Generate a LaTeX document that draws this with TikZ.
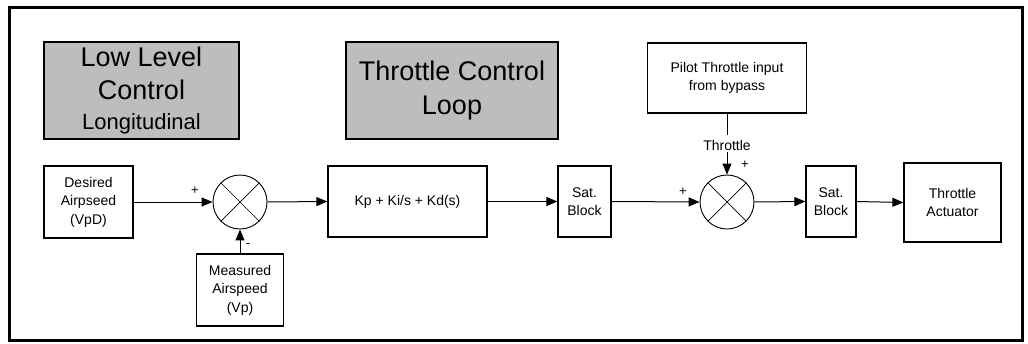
\documentclass[tikz,border=0pt]{standalone}
\usepackage{fontspec}
\setmainfont{Liberation Sans}
\usetikzlibrary{arrows.meta}
\definecolor{headgray}{HTML}{BDBDBD}
\begin{document}
\begin{tikzpicture}[x=1pt,y=-1pt,
  box/.style={draw,line width=1.2pt,inner sep=0pt,align=center,
    font=\fontsize{14}{18.5}\selectfont},
  headbox/.style={draw,line width=1.2pt,fill=headgray,inner sep=0pt,align=center,
    font=\fontsize{27}{34}\selectfont},
  sumnode/.style={circle,draw,line width=0.9pt,minimum size=54pt,inner sep=0pt,
    path picture={
      \draw[line width=0.7pt] ([shift={(45:27pt)}]path picture bounding box.center) -- ([shift={(225:27pt)}]path picture bounding box.center);
      \draw[line width=0.7pt] ([shift={(135:27pt)}]path picture bounding box.center) -- ([shift={(315:27pt)}]path picture bounding box.center);}},
  conn/.style={line width=1pt,-{Triangle[length=11pt,width=9pt]}},
  sign/.style={inner sep=0pt,font=\fontsize{13}{13}\selectfont}
]
\useasboundingbox (0,0) rectangle (1028,343);
\draw[line width=3pt] (9,7) rectangle (1022,340);

\node[headbox,minimum width=195pt,minimum height=97pt] (low) at (141.5,90.5)
  {Low Level\\[-1pt]Control\\[-4pt]{\fontsize{22}{26}\selectfont Longitudinal}};
\node[headbox,minimum width=212pt,minimum height=97pt] (tcl) at (452,90.5)
  {Throttle Control\\Loop};

\node[box,minimum width=89pt,minimum height=72pt] (des) at (88.5,202) {Desired\\Airpseed\\(VpD)};
\node[sumnode] (s1) at (240,202) {};
\node[box,minimum width=87pt,minimum height=72pt] (meas) at (240,290) {Measured\\Airspeed\\(Vp)};
\node[box,minimum width=159pt,minimum height=71pt] (pid) at (407.5,201.5) {Kp + Ki/s + Kd(s)};
\node[box,minimum width=53pt,minimum height=71pt] (sat1) at (584.5,201.5) {Sat.\\Block};
\node[sumnode] (s2) at (727,202) {};
\node[box,minimum width=50pt,minimum height=71pt] (sat2) at (831,201.5) {Sat.\\Block};
\node[box,minimum width=97pt,minimum height=79pt] (act) at (952.5,202.5) {Throttle\\Actuator};
\node[box,minimum width=159pt,minimum height=70pt] (pilot) at (727,78) {Pilot Throttle input\\from bypass};
\node[inner sep=1pt,font=\fontsize{14}{16}\selectfont] (thr) at (727,145) {Throttle};

\draw[conn] (des.east) -- (s1.west);
\draw[conn] (meas.north) -- (s1.south);
\draw[conn] (s1.east) -- (pid.west);
\draw[conn] (pid.east) -- (sat1.west);
\draw[conn] (sat1.east) -- (s2.west);
\draw[line width=1pt] (pilot.south) -- ([yshift=4pt]thr.north);
\draw[conn] ([yshift=-1pt]thr.south) -- (s2.north);
\draw[conn] (s2.east) -- (sat2.west);
\draw[conn] (sat2.east) -- (act.west);

\node[sign] (p1) at (195,191) {+};
\node[sign] (m1) at (248,246) {-};
\node[sign] (p2) at (683,192) {+};
\node[sign] (p3) at (745,165) {+};
\end{tikzpicture}
\end{document}
